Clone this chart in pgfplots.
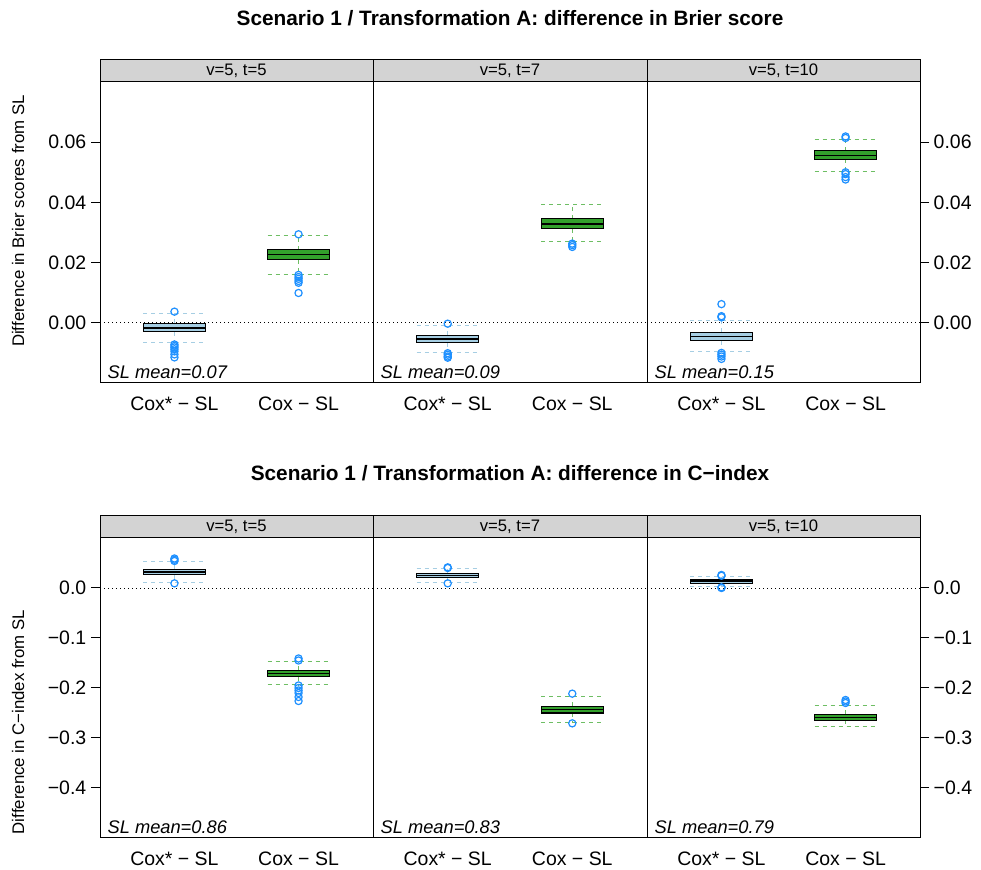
\documentclass[border=0pt]{standalone}
\usepackage{fontspec}
\setmainfont{Liberation Sans}
\usepackage{pgfplots}
\pgfplotsset{compat=1.18}
\usepgfplotslibrary{statistics}
\definecolor{cbox}{RGB}{166,206,227}
\definecolor{cgreen}{RGB}{51,160,44}
\definecolor{cwb}{RGB}{166,206,227}
\definecolor{cwg}{RGB}{110,190,100}
\definecolor{outl}{RGB}{30,144,255}
\definecolor{stripgray}{RGB}{211,211,211}
\pgfplotsset{
  panel/.style={scale only axis, clip=false, anchor=south west,
    xmin=0.4, xmax=2.6, xtick={1,2}, xticklabels={Cox* − SL, Cox − SL},
    scaled y ticks=false,
    tick align=outside, major tick length=6.75pt,
    major x tick style={draw=none},
    axis line style={line width=0.75pt},
    every tick/.style={black, line width=0.75pt},
    ticklabel style={font=\fontsize{14.6}{16}\selectfont},
    /pgf/number format/assume math mode=true},
  bpbase/.style={solid, draw=black, mark=o, mark size=2.7pt,
    mark options={draw=outl, solid, line width=0.9pt, fill=none},
    boxplot/draw direction=y, boxplot/box extend=0.5, boxplot/whisker extend=0.5,
    boxplot/every median/.style={draw=black, line width=0.9pt}},
  cstar/.style={bpbase,
    boxplot/every box/.style={fill=cbox, draw=black, line width=0.8pt},
    boxplot/every whisker/.style={draw=cwb, dash pattern=on 3pt off 3pt, line width=0.75pt}},
  ccox/.style={bpbase,
    boxplot/every box/.style={fill=cgreen, draw=black, line width=0.8pt},
    boxplot/every whisker/.style={draw=cwg, dash pattern=on 3pt off 3pt, line width=0.75pt}},
  zeroline/.style={black, line width=0.6pt, dash pattern=on 0.75pt off 2.25pt},
}
\newcommand{\strip}[1]{%
  \draw[fill=stripgray, line width=0.75pt] (rel axis cs:0,1) rectangle ([yshift=16.5pt]rel axis cs:1,1);
  \node[font=\fontsize{12.5}{14}\selectfont] at ([yshift=8.25pt]rel axis cs:0.5,1) {#1};}
\newcommand{\slmean}[1]{%
  \node[anchor=base west, inner sep=0pt, font=\fontsize{13.7}{16}\selectfont\itshape] at (rel axis cs:0.027,0.014) {SL mean=#1};}
\begin{document}
\begin{tikzpicture}
\useasboundingbox (0,0) rectangle (735.75pt,652.5pt);
% ---------------- top row: Brier score ----------------
\node[font=\fontsize{15.6}{18}\selectfont\bfseries] at (382.5pt,639pt) {Scenario 1 / Transformation A: difference in Brier score};
\node[rotate=90, font=\fontsize{12.6}{15}\selectfont] at (13.5pt,486.75pt) {Difference in Brier scores from SL};

\begin{axis}[panel, at={(75pt,365.25pt)}, width=204.75pt, height=225.75pt,
  ymin=-0.02, ymax=0.08, ytick={0,0.02,0.04,0.06}, yticklabels={0.00,0.02,0.04,0.06}, ytick pos=left]
\addplot[zeroline] coordinates {(0.4,0) (2.6,0)};
\addplot[cstar, boxplot prepared={draw position=1, lower whisker=-0.0067, lower quartile=-0.0030, median=-0.0017, upper quartile=-0.0001, upper whisker=0.0032}]
  table[row sep=\\, y index=0] {y\\ 0.0037\\ -0.0072\\ -0.0077\\ -0.0082\\ -0.0088\\ -0.0095\\ -0.0105\\ -0.0115\\};
\addplot[ccox, boxplot prepared={draw position=2, lower whisker=0.0162, lower quartile=0.0209, median=0.0226, upper quartile=0.0242, upper whisker=0.0289}]
  table[row sep=\\, y index=0] {y\\ 0.0294\\ 0.0159\\ 0.0152\\ 0.0146\\ 0.0139\\ 0.0133\\ 0.0099\\};
\strip{v=5, t=5}
\slmean{0.07}
\end{axis}

\begin{axis}[panel, at={(279.75pt,365.25pt)}, width=205.5pt, height=225.75pt,
  ymin=-0.02, ymax=0.08, ytick=\empty]
\addplot[zeroline] coordinates {(0.4,0) (2.6,0)};
\addplot[cstar, boxplot prepared={draw position=1, lower whisker=-0.0098, lower quartile=-0.0067, median=-0.0054, upper quartile=-0.0042, upper whisker=-0.0010}]
  table[row sep=\\, y index=0] {y\\ -0.0003\\ -0.0101\\ -0.0106\\ -0.0112\\ -0.0116\\};
\addplot[ccox, boxplot prepared={draw position=2, lower whisker=0.0270, lower quartile=0.0312, median=0.0328, upper quartile=0.0345, upper whisker=0.0394}]
  table[row sep=\\, y index=0] {y\\ 0.0263\\ 0.0258\\ 0.0252\\};
\strip{v=5, t=7}
\slmean{0.09}
\end{axis}

\begin{axis}[panel, at={(485.25pt,365.25pt)}, width=204.75pt, height=225.75pt,
  ymin=-0.02, ymax=0.08, ytick={0,0.02,0.04,0.06}, yticklabels={0.00,0.02,0.04,0.06},
  ytick pos=right, yticklabel pos=right]
\addplot[zeroline] coordinates {(0.4,0) (2.6,0)};
\addplot[cstar, boxplot prepared={draw position=1, lower whisker=-0.0097, lower quartile=-0.0059, median=-0.0045, upper quartile=-0.0031, upper whisker=0.0007}]
  table[row sep=\\, y index=0] {y\\ 0.0018\\ 0.0022\\ 0.0062\\ -0.0100\\ -0.0106\\ -0.0112\\ -0.0120\\};
\addplot[ccox, boxplot prepared={draw position=2, lower whisker=0.0504, lower quartile=0.0544, median=0.0557, upper quartile=0.0571, upper whisker=0.0610}]
  table[row sep=\\, y index=0] {y\\ 0.0614\\ 0.0619\\ 0.0500\\ 0.0494\\ 0.0484\\ 0.0476\\};
\strip{v=5, t=10}
\slmean{0.15}
\end{axis}

% ---------------- bottom row: C-index ----------------
\node[font=\fontsize{15.6}{18}\selectfont\bfseries] at (382.5pt,297.75pt) {Scenario 1 / Transformation A: difference in C−index};
\node[rotate=90, font=\fontsize{12.6}{15}\selectfont] at (13.5pt,111pt) {Difference in C−index from SL};

\begin{axis}[panel, at={(75pt,24pt)}, width=204.75pt, height=225pt,
  ymin=-0.5, ymax=0.1, ytick={-0.4,-0.3,-0.2,-0.1,0}, yticklabels={−0.4,−0.3,−0.2,−0.1,0.0}, ytick pos=left]
\addplot[zeroline] coordinates {(0.4,0) (2.6,0)};
\addplot[cstar, boxplot prepared={draw position=1, lower whisker=0.0113, lower quartile=0.0267, median=0.0320, upper quartile=0.0373, upper whisker=0.0520}]
  table[row sep=\\, y index=0] {y\\ 0.0540\\ 0.0565\\ 0.0590\\ 0.0093\\};
\addplot[ccox, boxplot prepared={draw position=2, lower whisker=-0.1940, lower quartile=-0.1773, median=-0.1710, upper quartile=-0.1647, upper whisker=-0.1480}]
  table[row sep=\\, y index=0] {y\\ -0.1410\\ -0.1450\\ -0.1950\\ -0.2000\\ -0.2050\\ -0.2100\\ -0.2180\\ -0.2260\\};
\strip{v=5, t=5}
\slmean{0.86}
\end{axis}

\begin{axis}[panel, at={(279.75pt,24pt)}, width=205.5pt, height=225pt,
  ymin=-0.5, ymax=0.1, ytick=\empty]
\addplot[zeroline] coordinates {(0.4,0) (2.6,0)};
\addplot[cstar, boxplot prepared={draw position=1, lower whisker=0.0113, lower quartile=0.0213, median=0.0253, upper quartile=0.0293, upper whisker=0.0380}]
  table[row sep=\\, y index=0] {y\\ 0.0413\\ 0.0400\\ 0.0093\\};
\addplot[ccox, boxplot prepared={draw position=2, lower whisker=-0.2693, lower quartile=-0.2500, median=-0.2433, upper quartile=-0.2367, upper whisker=-0.2180}]
  table[row sep=\\, y index=0] {y\\ -0.2113\\ -0.2707\\};
\strip{v=5, t=7}
\slmean{0.83}
\end{axis}

\begin{axis}[panel, at={(485.25pt,24pt)}, width=204.75pt, height=225pt,
  ymin=-0.5, ymax=0.1, ytick={-0.4,-0.3,-0.2,-0.1,0}, yticklabels={−0.4,−0.3,−0.2,−0.1,0.0},
  ytick pos=right, yticklabel pos=right]
\addplot[zeroline] coordinates {(0.4,0) (2.6,0)};
\addplot[cstar, boxplot prepared={draw position=1, lower whisker=0.0027, lower quartile=0.0093, median=0.0127, upper quartile=0.0160, upper whisker=0.0227}]
  table[row sep=\\, y index=0] {y\\ 0.0260\\ 0.0245\\ 0.0013\\ 0.0000\\};
\addplot[ccox, boxplot prepared={draw position=2, lower whisker=-0.2773, lower quartile=-0.2647, median=-0.2587, upper quartile=-0.2527, upper whisker=-0.2353}]
  table[row sep=\\, y index=0] {y\\ -0.2240\\ -0.2270\\ -0.2300\\};
\strip{v=5, t=10}
\slmean{0.79}
\end{axis}
\end{tikzpicture}
\end{document}
